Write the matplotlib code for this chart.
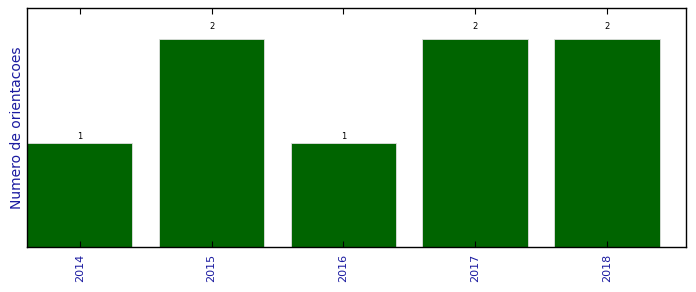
import matplotlib
matplotlib.use("Agg")
import matplotlib.pyplot as plt

# Data
years = ["2014", "2015", "2016", "2017", "2018"]
counts = [1, 2, 1, 2, 2]

fig = plt.figure(figsize=(6.96, 2.92), dpi=100)
ax = fig.add_axes([0.0388, 0.154, 0.9468, 0.8186])

x = range(len(years))
bars = ax.bar(x, counts, width=0.8, color="#006400", edgecolor="#e0e0e0", linewidth=0.6)

for xi, c in zip(x, counts):
    ax.text(xi, 1.06 * c, str(c), ha="center", va="center", fontsize=6)

ax.set_xlim(-0.4, 4.6)
ax.set_ylim(0, 2.3)
ax.set_xticks(list(x))
ax.set_xticklabels(years, rotation=90, color="#1a1aa0", fontsize=8)
ax.set_yticks([])
ax.tick_params(axis="x", direction="in", top=True, length=4, width=0.8, pad=5)
ax.set_ylabel("Numero de orientacoes", color="#1a1aa0", fontsize=10, labelpad=2.5)
for s in ax.spines.values():
    s.set_linewidth(1.0)

fig.savefig("out.png", dpi=100)
